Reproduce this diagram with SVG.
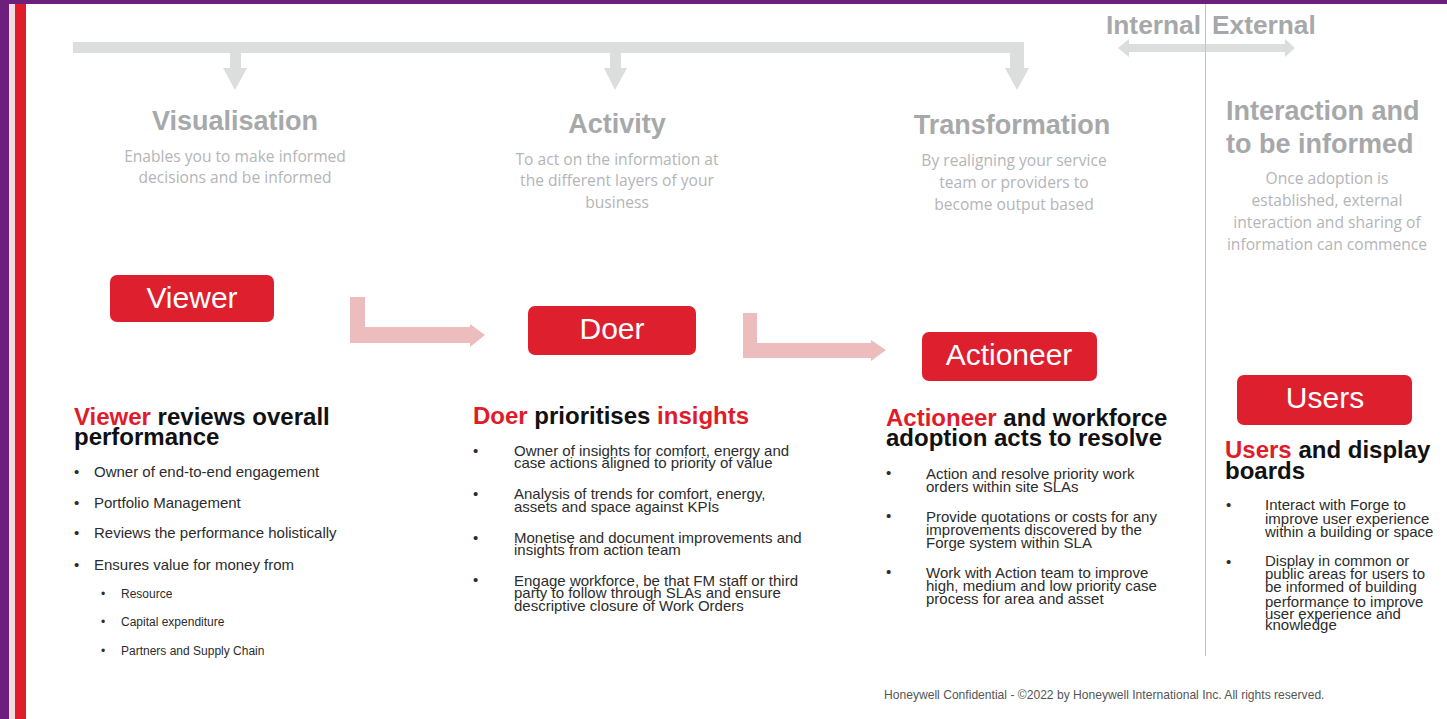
<svg xmlns="http://www.w3.org/2000/svg" width="1447" height="719" viewBox="0 0 1447 719">
<style>
text{font-family:"Liberation Sans",Arial,sans-serif}
text.s{font-family:"Open Sans","Noto Sans",sans-serif;font-size:15.600px;fill:#b4b5b7}
.h{font-weight:700;font-size:27px;fill:#a6a8aa}
.ie{font-weight:700;font-size:26.300px;fill:#a6a8aa}
.box{fill:#de1f2e}
.bt{font-size:30px;fill:#fff;text-anchor:middle}
.t{font-weight:700;font-size:24px;fill:#111}
.r{fill:#e01b2a}
.b{font-size:15px;fill:#2c2c2c}
.sm{font-size:12px;fill:#2c2c2c}
.gc{fill:#dcdddd}
.pk{fill:#edbcbc}
.m{text-anchor:middle}
</style>
<rect width="1447" height="719" fill="#fff"/>
<rect width="1447" height="4" fill="#6c1f7c"/>
<rect width="9" height="719" fill="#6c1f7c"/>
<rect x="9" y="4" width="6" height="715" fill="#efdde2"/>
<rect x="15" y="4" width="11" height="715" fill="#e01b2a"/>

<g id="connectors">
<path class="gc" d="M73 42H1024V68H1029L1017 90L1005 68H1010V53H621V68H627L615 90L604 68H610V53H241V68H247L235 90L223 68H230V53H73Z"/>
<path class="gc" d="M1118 48L1129 39V44H1285V39L1295 48L1285 57V52H1129V57Z"/>
<path fill="none" stroke="#c4c5c7" stroke-width="1" d="M1205.500 4V656"/>
<path class="pk" d="M350 297H365V327H470V324L485 335L470 347V343H350Z"/>
<path class="pk" d="M743 313H757V343H871V340L886 350L871 361V358H743Z"/>
</g>

<g id="internal-external">
<text class="ie" x="1106" y="34">Internal</text>
<text class="ie" x="1212" y="34">External</text>
</g>

<g id="visualisation">
<text class="h m" x="235" y="130">Visualisation</text>
<text class="s m" x="235" y="162">Enables you to make informed</text>
<text class="s m" x="235" y="183">decisions and be informed</text>
</g>
<g id="activity">
<text class="h m" x="617" y="133">Activity</text>
<text class="s m" x="617" y="165">To act on the information at</text>
<text class="s m" x="617" y="186">the different layers of your</text>
<text class="s m" x="617" y="208">business</text>
</g>
<g id="transformation">
<text class="h m" x="1012" y="134">Transformation</text>
<text class="s m" x="1014" y="166">By realigning your service</text>
<text class="s m" x="1014" y="188">team or providers to</text>
<text class="s m" x="1014" y="210">become output based</text>
</g>
<g id="interaction">
<text class="h" x="1226" y="120">Interaction and</text>
<text class="h" x="1226" y="153">to be informed</text>
<text class="s m" x="1327" y="184">Once adoption is</text>
<text class="s m" x="1327" y="206">established, external</text>
<text class="s m" x="1327" y="228">interaction and sharing of</text>
<text class="s m" x="1327" y="250">information can commence</text>
</g>

<g id="viewer">
<rect class="box" x="110" y="275" width="164" height="47" rx="7"/>
<text class="bt" x="192" y="308">Viewer</text>
</g>
<g id="doer">
<rect class="box" x="528" y="306" width="168" height="49" rx="7"/>
<text class="bt" x="612" y="339">Doer</text>
</g>
<g id="actioneer">
<rect class="box" x="922" y="332" width="175" height="49" rx="7"/>
<text class="bt" x="1009" y="365">Actioneer</text>
</g>
<g id="users">
<rect class="box" x="1237" y="375" width="175" height="50" rx="7"/>
<text class="bt" x="1325" y="408">Users</text>
</g>

<g id="viewer-text">
<text class="t" x="74" y="425"><tspan class="r">Viewer</tspan> reviews overall</text>
<text class="t" x="74" y="445">performance</text>
<text class="b" x="74" y="477">•</text><text class="b" x="94" y="477">Owner of end-to-end engagement</text>
<text class="b" x="74" y="508">•</text><text class="b" x="94" y="508">Portfolio Management</text>
<text class="b" x="74" y="538">•</text><text class="b" x="94" y="538">Reviews the performance holistically</text>
<text class="b" x="74" y="570">•</text><text class="b" x="94" y="570">Ensures value for money from</text>
<text class="sm" x="101" y="598">•</text><text class="sm" x="121" y="598">Resource</text>
<text class="sm" x="101" y="626">•</text><text class="sm" x="121" y="626">Capital expenditure</text>
<text class="sm" x="101" y="655">•</text><text class="sm" x="121" y="655">Partners and Supply Chain</text>
</g>

<g id="doer-text">
<text class="t" x="473" y="424"><tspan class="r">Doer</tspan> prioritises <tspan class="r">insights</tspan></text>
<text class="b" x="473" y="456">•</text>
<text class="b" x="514" y="456">Owner of insights for comfort, energy and</text>
<text class="b" x="514" y="468">case actions aligned to priority of value</text>
<text class="b" x="473" y="499">•</text>
<text class="b" x="514" y="499">Analysis of trends for comfort, energy,</text>
<text class="b" x="514" y="512">assets and space against KPIs</text>
<text class="b" x="473" y="543">•</text>
<text class="b" x="514" y="543">Monetise and document improvements and</text>
<text class="b" x="514" y="555">insights from action team</text>
<text class="b" x="473" y="585">•</text>
<text class="b" x="514" y="586">Engage workforce, be that FM staff or third</text>
<text class="b" x="514" y="598">party to follow through SLAs and ensure</text>
<text class="b" x="514" y="611">descriptive closure of Work Orders</text>
</g>

<g id="actioneer-text">
<text class="t" x="886" y="426"><tspan class="r">Actioneer</tspan> and workforce</text>
<text class="t" x="886" y="446">adoption acts to resolve</text>
<text class="b" x="886" y="478">•</text>
<text class="b" x="926" y="479">Action and resolve priority work</text>
<text class="b" x="926" y="492">orders within site SLAs</text>
<text class="b" x="886" y="521">•</text>
<text class="b" x="926" y="522">Provide quotations or costs for any</text>
<text class="b" x="926" y="535">improvements discovered by the</text>
<text class="b" x="926" y="548">Forge system within SLA</text>
<text class="b" x="886" y="577">•</text>
<text class="b" x="926" y="578">Work with Action team to improve</text>
<text class="b" x="926" y="591">high, medium and low priority case</text>
<text class="b" x="926" y="604">process for area and asset</text>
</g>

<g id="users-text">
<text class="t" x="1225" y="458"><tspan class="r">Users</tspan> and display</text>
<text class="t" x="1225" y="479">boards</text>
<text class="b" x="1226" y="510">•</text>
<text class="b" x="1265" y="510">Interact with Forge to</text>
<text class="b" x="1265" y="524">improve user experience</text>
<text class="b" x="1265" y="537">within a building or space</text>
<text class="b" x="1226" y="567">•</text>
<text class="b" x="1265" y="566">Display in common or</text>
<text class="b" x="1265" y="579">public areas for users to</text>
<text class="b" x="1265" y="592">be informed of building</text>
<text class="b" x="1265" y="607">performance to improve</text>
<text class="b" x="1265" y="619">user experience and</text>
<text class="b" x="1265" y="630">knowledge</text>
</g>

<text id="footer" x="884" y="699" font-size="12.100" fill="#555">Honeywell Confidential - ©2022 by Honeywell International Inc. All rights reserved.</text>
</svg>
